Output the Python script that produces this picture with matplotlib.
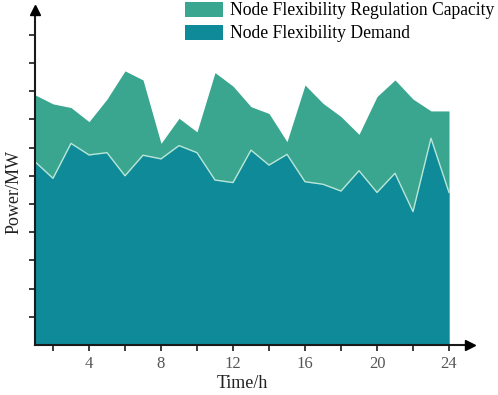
# coding=utf-8
import numpy as np
import matplotlib.pyplot as plt

# 数据
hours = list(range(1, 25))
capacity = [8.87, 8.55, 8.42, 7.92, 8.72, 9.72, 9.40, 7.15, 8.04, 7.56, 9.66, 9.18,
            8.45, 8.21, 7.21, 9.22, 8.57, 8.10, 7.47, 8.81, 9.40, 8.72, 8.30, 8.30]
demand = [6.50, 5.91, 7.15, 6.74, 6.82, 6.00, 6.73, 6.60, 7.07, 6.82, 5.85, 5.76,
          6.91, 6.38, 6.76, 5.79, 5.70, 5.46, 6.18, 5.41, 6.09, 4.73, 7.33, 5.41]
labels = ['Node Flexibility Regulation Capacity', 'Node Flexibility Demand']
xticks = [4, 8, 12, 16, 20, 24]

plt.rcParams['font.family'] = ['Liberation Serif', 'DejaVu Serif']

fig = plt.figure(figsize=(4.98, 3.95), dpi=100)
ax = fig.add_axes([35 / 498, 50 / 395, 435 / 498, 335 / 395])

c_cap = '#3ba68f'
c_dem = '#0f8a99'
ax.fill_between(hours, 0, capacity, color=c_cap, lw=0, label=labels[0])
ax.fill_between(hours, 0, demand, color=c_dem, lw=0, label=labels[1])
ax.plot(hours, demand, color='#b8e6d8', lw=1.0)

ax.set_xlim(1, 1 + 435 / 18)
ax.set_ylim(0, 335 / 28.2)

for s in ['top', 'right']:
    ax.spines[s].set_visible(False)
for s in ['left', 'bottom']:
    ax.spines[s].set_linewidth(1.5)
    ax.spines[s].set_color('#1a1a1a')
    ax.spines[s].set_zorder(5)
# 箭头
ax.plot(1, 0, '>', color='black', ms=7, transform=ax.transAxes, clip_on=False, zorder=6)
ax.plot(0, 1, '^', color='black', ms=7, transform=ax.transAxes, clip_on=False, zorder=6)

ax.set_xticks(xticks)
ax.set_xticks(range(2, 24, 2), minor=True)
ax.set_yticks(range(1, 12))
ax.set_yticklabels([])
ax.tick_params(axis='both', which='both', direction='out', length=4, width=1.2, color='#1a1a1a')
ax.tick_params(axis='x', labelsize=12, labelcolor='#555555', pad=4)

# 坐标轴标题
fig.text(242 / 498, 1 - 383 / 395, 'Time/h', fontsize=13, color='#222222',
         ha='center', va='center')
fig.text(14 / 498, 1 - 192 / 395, 'Power/MW', fontsize=13, color='#222222',
         ha='center', va='center', rotation=90)

fig.legend(loc='upper left', bbox_to_anchor=(183 / 498, 1.0), frameon=False,
           fontsize=12.7, handlelength=2.15, handleheight=0.95, labelspacing=0.3,
           handletextpad=0.4, borderaxespad=0.0, borderpad=0.1)

fig.savefig('out.png', dpi=100)
